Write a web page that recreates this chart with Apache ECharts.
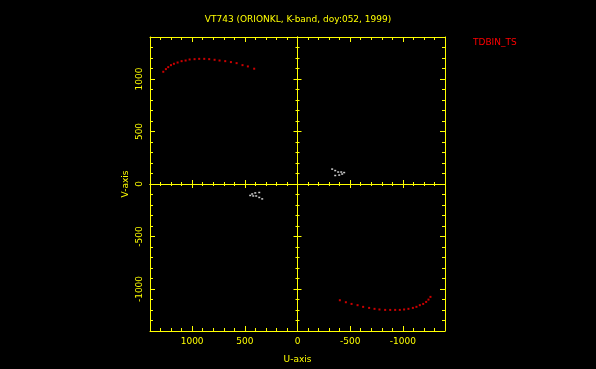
<!DOCTYPE html>
<html><head><meta charset="utf-8">
<script src="https://cdn.jsdelivr.net/npm/echarts@6/dist/echarts.min.js"></script>
<style>html,body{margin:0;padding:0;background:#000}#c{width:596px;height:369px}</style>
</head><body><div id="c"></div>
<script>
const titleText = 'VT743 (ORIONKL, K-band, doy:052, 1999)';
const legendName = 'TDBIN_TS';
const xName = 'U-axis';
const yName = 'V-axis';
const axisMin = -1400, axisMax = 1400;

// upper-left arc (U, V)
const uArcA = [1274,1249,1227,1201,1173,1138,1100,1062,1024,977,933,885,838,787,740,686,632,578,522,471,411];
const vArcA = [1069,1094,1113,1132,1145,1157,1170,1176,1186,1189,1192,1192,1189,1183,1176,1170,1161,1151,1132,1120,1098];
// lower-right arc (U, V)
const uArcB = [-402,-459,-513,-570,-623,-680,-731,-778,-832,-880,-927,-971,-1012,-1053,-1095,-1129,-1161,-1193,-1221,-1243,-1262];
const vArcB = [-1107,-1126,-1142,-1154,-1170,-1180,-1189,-1195,-1199,-1199,-1199,-1199,-1195,-1189,-1180,-1170,-1154,-1142,-1123,-1101,-1075];
// small white clusters near the centre
const uWhite = [-329,-358,-386,-415,-443,-424,-396,-358, 335,363,392,420,449,430,401,363];
const vWhite = [142,128,114,114,109,95,85,81, -142,-128,-114,-114,-109,-95,-85,-81];

const YEL = '#ffff00';
const zip = (a, b) => a.map((v, i) => [v, b[i]]);
const fmt = v => String(v);
const font = 'DejaVu Sans';

function axis(dim, pos, opts) {
  const a = {
    type: 'value', min: axisMin, max: axisMax, position: pos,
    inverse: dim === 'x',
    splitLine: {show: false},
    axisLine: {show: true, onZero: !!opts.zero, lineStyle: {color: YEL, width: 1}},
    axisTick: {show: true, inside: true, length: opts.tick, lineStyle: {color: YEL}},
    minorTick: {show: true, splitNumber: 5, length: opts.minor, lineStyle: {color: YEL}},
    axisLabel: {show: false},
    z: 5
  };
  if (opts.zero) a.axisLine.onZeroAxisIndex = 0;
  if (opts.labels) {
    a.axisLabel = {show: true, color: YEL, fontFamily: font, fontSize: 9, margin: 6,
      formatter: fmt, showMinLabel: false, showMaxLabel: false};
    if (dim === 'y') a.axisLabel.rotate = 90;
    a.name = dim === 'x' ? xName : yName;
    a.nameLocation = 'middle';
    a.nameGap = dim === 'x' ? 24 : 20;
    a.nameTextStyle = {color: YEL, fontFamily: font, fontSize: 9};
  }
  return a;
}

const chart = echarts.init(document.getElementById('c'));
chart.setOption({
  backgroundColor: '#000',
  animation: false,
  title: {text: titleText, left: 'center', top: 10,
    textStyle: {color: YEL, fontFamily: font, fontSize: 9, fontWeight: 'normal'}},
  legend: {data: [{name: legendName, icon: 'none'}], left: 463, top: 33, itemWidth: 0, itemHeight: 0,
    itemGap: 0, textStyle: {color: '#ff0000', fontFamily: font, fontSize: 9}},
  grid: {left: 150, right: 151, top: 37, bottom: 38, show: false},
  xAxis: [
    axis('x', 'bottom', {tick: 5, minor: 3, labels: true}),
    axis('x', 'top', {tick: 5, minor: 3}),
    axis('x', 'bottom', {tick: 4, minor: 2, zero: true}),
    axis('x', 'top', {tick: 4, minor: 2, zero: true})
  ],
  yAxis: [
    axis('y', 'left', {tick: 5, minor: 3, labels: true}),
    axis('y', 'right', {tick: 5, minor: 3}),
    axis('y', 'left', {tick: 4, minor: 2, zero: true}),
    axis('y', 'right', {tick: 4, minor: 2, zero: true})
  ],
  series: [
    {name: legendName, type: 'scatter', symbol: 'rect', symbolSize: [2, 2],
      itemStyle: {color: '#ff0000'}, data: zip(uArcA, vArcA), xAxisIndex: 0, yAxisIndex: 0},
    {name: legendName, type: 'scatter', symbol: 'rect', symbolSize: [2, 2],
      itemStyle: {color: '#ff0000'}, data: zip(uArcB, vArcB), xAxisIndex: 0, yAxisIndex: 0},
    {name: 'white', type: 'scatter', symbol: 'rect', symbolSize: [2, 1.5],
      itemStyle: {color: '#ffffff'}, data: zip(uWhite, vWhite), xAxisIndex: 0, yAxisIndex: 0}
  ]
});
</script>
</body></html>
